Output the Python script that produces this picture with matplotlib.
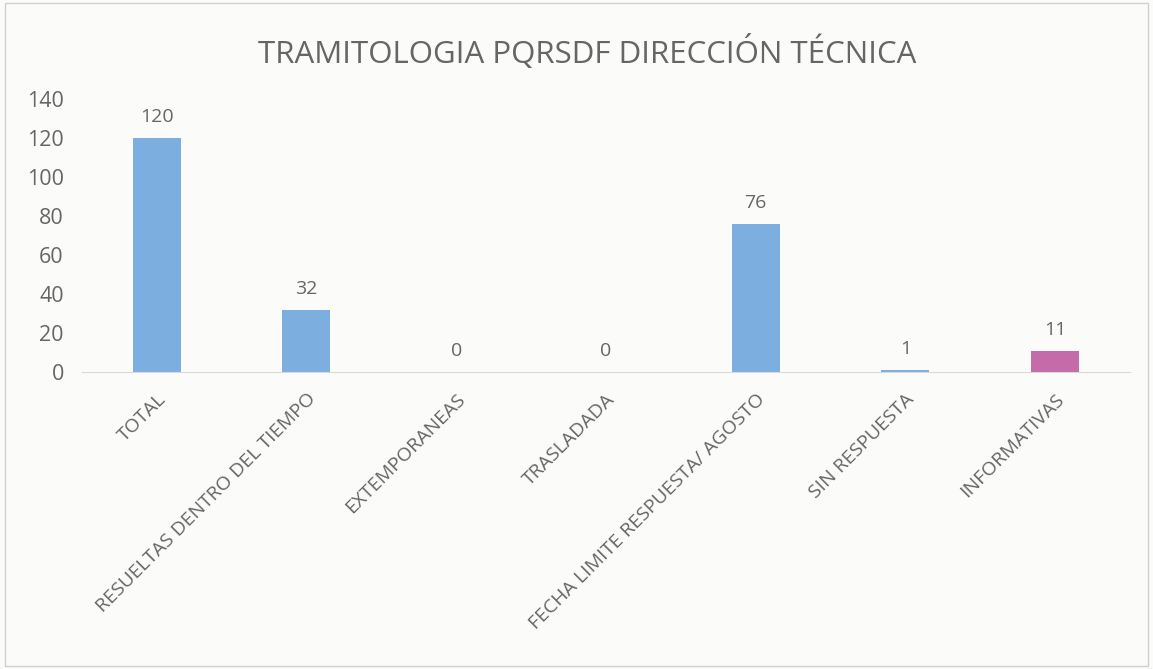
import matplotlib.pyplot as plt

plt.rcParams['font.family'] = ['Open Sans', 'DejaVu Sans']

# Datos del gráfico
categorias = ['TOTAL', 'RESUELTAS DENTRO DEL TIEMPO', 'EXTEMPORANEAS', 'TRASLADADA',
              'FECHA LIMITE RESPUESTA/ AGOSTO', 'SIN RESPUESTA', 'INFORMATIVAS']
valores = [120, 32, 0, 0, 76, 1, 11]
colores = ['#7CAFE0'] * 6 + ['#C56BA9']

gris = '#666666'

fig = plt.figure(figsize=(11.53, 6.69), dpi=100)
fig.patch.set_facecolor('#FBFBFA')
ax = fig.add_axes([0.071, 0.444, 0.909, 0.408])
ax.set_facecolor('none')

x = range(len(categorias))
ax.bar(x, valores, width=0.32, color=colores)

for i, v in zip(x, valores):
    ax.text(i, v + 6, str(v), ha='center', va='bottom', fontsize=14, color=gris)

ax.set_xlim(-0.5, len(categorias) - 0.5)
ax.set_ylim(0, 140)
ax.set_yticks(range(0, 141, 20))
ax.tick_params(axis='y', length=0, labelsize=15.5, labelcolor=gris, pad=13)
ax.tick_params(axis='x', length=0, labelsize=14, labelcolor=gris, pad=13)
ax.set_xticks(list(x))
ax.set_xticklabels(categorias, rotation=45, ha='right', rotation_mode='anchor')

for s in ['top', 'right', 'left']:
    ax.spines[s].set_visible(False)
ax.spines['bottom'].set_color('#D9D9D9')

fig.text(0.509, 0.922, 'TRAMITOLOGIA PQRSDF DIRECCIÓN TÉCNICA', ha='center', va='center',
         fontsize=22.5, color=gris)

# borde del área del gráfico
fig.add_artist(plt.Rectangle((0.004, 0.005), 0.992, 0.99, transform=fig.transFigure,
                             fill=False, edgecolor='#D0D0D0', linewidth=1))

fig.savefig('out.png', dpi=100, facecolor=fig.get_facecolor())
